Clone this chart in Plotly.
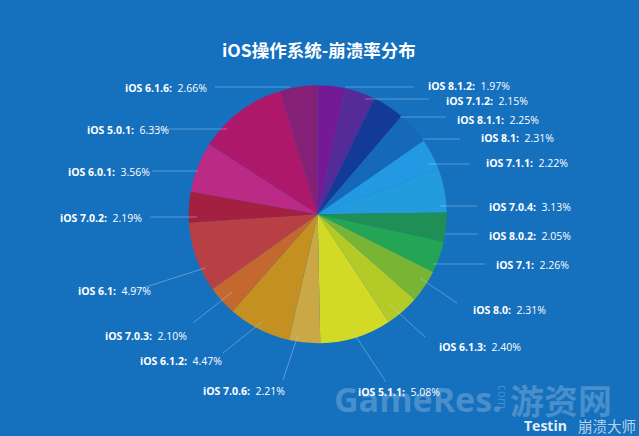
import plotly.graph_objects as go

W = 639
H = 436

versions = ["iOS 8.1.2", "iOS 7.1.2", "iOS 8.1.1", "iOS 8.1", "iOS 7.1.1", "iOS 7.0.4", "iOS 8.0.2",
            "iOS 7.1", "iOS 8.0", "iOS 6.1.3", "iOS 5.1.1", "iOS 7.0.6", "iOS 6.1.2", "iOS 7.0.3",
            "iOS 6.1", "iOS 7.0.2", "iOS 6.0.1", "iOS 5.0.1", "iOS 6.1.6"]
rates = [1.97, 2.15, 2.25, 2.31, 2.22, 3.13, 2.05, 2.26, 2.31, 2.40, 5.08, 2.21, 4.47, 2.10,
         4.97, 2.19, 3.56, 6.33, 2.66]
colors = ["#741A97", "#552A99", "#133A97", "#1569B8", "#2399E3", "#239CDC", "#1F8F57", "#24A455",
          "#78B535", "#B4CB27", "#D2DA26", "#C9A845", "#C59022", "#C4682F", "#B84045", "#A52040",
          "#BB2A85", "#AE186A", "#842075"]

# pixel position of each label (left edge, middle) and its leader line
label_pos = [(427, 86), (445, 101), (456, 120), (480, 138), (485, 163), (488, 207), (488, 236),
             (495, 265), (472, 310), (438, 347), (357, 392), (202, 391), (139, 361), (104, 336),
             (77, 291), (59, 218), (67, 172), (86, 130), (124, 88)]
leaders = [((345, 87), (414, 87)), ((365, 99), (429, 99)), ((400, 117), (446, 117)),
           ((423, 139), (460, 139)), ((428, 164), (470, 164)), ((440, 206), (477, 206)),
           ((445, 234), (478, 234)), ((433, 264), (485, 264)), ((420, 278), (457, 303)),
           ((388, 303), (425, 337)), ((353, 332), (386, 382)), ((298, 335), (283, 380)),
           ((263, 321), (223, 353)), ((232, 292), (193, 323)), ((205, 268), (130, 292)),
           ((150, 217), (197, 217)), ((152, 171), (198, 171)), ((152, 129), (227, 129)),
           ((215, 87), (290, 87))]

cx, cy, r = 317.7, 214.3, 129


def px(x):
    return x / W


def py(y):
    return 1 - y / H


def add_text(x, y, text, font, size, color, xanchor="left", angle=0):
    fig.add_annotation(x=px(x), y=py(y), xref="paper", yref="paper", xanchor=xanchor, yanchor="middle",
                       showarrow=False, borderpad=0, text=text, textangle=angle,
                       font=dict(family=font, size=size, color=color))


fig = go.Figure()

fig.add_trace(go.Pie(
    labels=versions,
    values=rates,
    sort=False,
    direction="clockwise",
    rotation=0,
    textinfo="none",
    showlegend=False,
    marker=dict(colors=colors, line=dict(width=0)),
    domain=dict(x=[px(cx - r), px(cx + r)], y=[py(cy + r), py(cy - r)]),
))

for (x0, y0), (x1, y1) in leaders:
    fig.add_shape(type="line", xref="paper", yref="paper",
                  x0=px(x0), y0=py(y0), x1=px(x1), y1=py(y1),
                  line=dict(color="rgba(175,212,242,0.55)", width=0.8))

for name, val, pos in zip(versions, rates, label_pos):
    add_text(pos[0], pos[1], f"<b>{name}:</b>  {val:.2f}%", "Open Sans", 10.5, "white")

# title and watermarks
add_text(319, 50, "<b>iOS操作系统-崩溃率分布</b>", "Noto Sans CJK SC", 17.5, "white", xanchor="center")
add_text(333, 399, "<b>GameRes.</b>", "Open Sans", 34, "rgba(255,255,255,0.22)")
add_text(503, 397, "com", "Open Sans", 12, "rgba(255,255,255,0.22)", xanchor="center", angle=90)
add_text(509, 399, "<b>游资网</b>", "Noto Sans CJK SC", 34, "rgba(255,255,255,0.22)")
add_text(523, 425, "<b>Testin</b>", "Open Sans", 14, "rgba(255,255,255,0.9)")
add_text(577, 425, "崩溃大师", "Noto Sans CJK SC", 14.5, "rgba(255,255,255,0.7)")

fig.update_layout(width=W, height=H, margin=dict(l=0, r=0, t=0, b=0),
                  paper_bgcolor="#1570BE", plot_bgcolor="#1570BE")

fig.write_html("out.html", config=dict(displayModeBar=False),
               post_script="document.body.style.margin='0';")
